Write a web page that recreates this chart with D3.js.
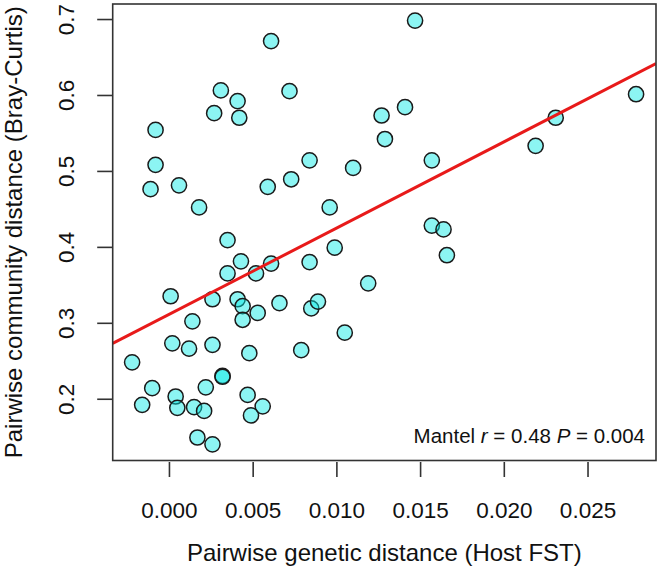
<!DOCTYPE html>
<html>
<head>
<meta charset="utf-8">
<script src="https://cdn.jsdelivr.net/npm/d3@7"></script>
<style>
	body { margin: 0; background: #fff; }
	text { font-family: "Liberation Sans", Arial, Helvetica, sans-serif; fill: #111; }
</style>
</head>
<body>
<svg class="mainsvg" width="661" height="578"></svg>
<script>
// host FST vs Bray-Curtis
var fst = [0.0061, 0.0031, 0.0072, 0.0041, 0.0027, 0.0042, -0.0008, -0.0008, -0.0011, 0.0006,
	0.0018, 0.0059, 0.0073, 0.0084, 0.0110, 0.0096, 0.0127, 0.0129, 0.0147, 0.0141,
	0.0157, 0.0219, 0.0231, 0.0279, 0.0157, 0.0164, 0.0166, 0.0035, 0.0043, 0.0035,
	0.0061, 0.0052, 0.0084, 0.0099, 0.0119, 0.0001, 0.0026, 0.0041, 0.0044, 0.0053,
	0.0044, 0.0066, 0.0085, 0.0089, 0.0014, 0.0105, 0.0002, 0.0012, 0.0026, 0.0048,
	0.0079, -0.0022, 0.0032, 0.0032, -0.0010, 0.0022, 0.0004, 0.0047, -0.0016, 0.0005,
	0.0015, 0.0021, 0.0056, 0.0049, 0.0017, 0.0026];
var bray = [0.671, 0.606, 0.605, 0.592, 0.576, 0.570, 0.554, 0.508, 0.476, 0.481,
	0.452, 0.479, 0.489, 0.514, 0.504, 0.452, 0.573, 0.542, 0.698, 0.584,
	0.514, 0.533, 0.570, 0.601, 0.428, 0.423, 0.389, 0.409, 0.381, 0.365,
	0.378, 0.365, 0.380, 0.399, 0.352, 0.335, 0.331, 0.331, 0.322, 0.313,
	0.304, 0.326, 0.319, 0.328, 0.302, 0.287, 0.273, 0.266, 0.271, 0.260,
	0.264, 0.248, 0.230, 0.229, 0.214, 0.215, 0.203, 0.205, 0.192, 0.188,
	0.189, 0.184, 0.190, 0.178, 0.149, 0.140];

var fit = [0.311, 11.36];   // intercept, slope
var xTicks = [0, 0.005, 0.010, 0.015, 0.020, 0.025];
var yTicks = [0.2, 0.3, 0.4, 0.5, 0.6, 0.7];
var statText = { pre: 'Mantel ', r: 'r', mid: ' = 0.48 ', p: 'P', post: ' = 0.004' };

var svg = d3.select('.mainsvg');
var pl = 112.7, pr = 656, pt = 4, pb = 460.5;

var x = d3.scaleLinear().domain([-0.00336, 0.02909]).range([pl, pr]);
var y = d3.scaleLinear().domain([0.1187, 0.7198]).range([pb, pt]);

svg.append('clipPath')
	.attr('id', 'plotclip')
	.append('rect')
	.attr('x', pl).attr('y', pt)
	.attr('width', pr - pl).attr('height', pb - pt);

// points
var pts = fst.map(function(d, i) { return { x: d, y: bray[i] }; });
svg.append('g')
	.selectAll('circle')
	.data(pts)
	.join('circle')
	.attr('cx', function(d) { return x(d.x); })
	.attr('cy', function(d) { return y(d.y); })
	.attr('r', 7.6)
	.attr('fill', 'rgba(0,232,228,0.45)')
	.attr('stroke', '#1a1a1a')
	.attr('stroke-width', 1.5);

// regression line
var xd = x.domain();
svg.append('line')
	.attr('clip-path', 'url(#plotclip)')
	.attr('x1', x(xd[0])).attr('y1', y(fit[0] + fit[1] * xd[0]))
	.attr('x2', x(xd[1])).attr('y2', y(fit[0] + fit[1] * xd[1]))
	.attr('stroke', '#e81a1a')
	.attr('stroke-width', 3);

// box
svg.append('rect')
	.attr('x', pl).attr('y', pt)
	.attr('width', pr - pl).attr('height', pb - pt)
	.attr('fill', 'none')
	.attr('stroke', '#333')
	.attr('stroke-width', 1.6);

// x axis
var gx = svg.append('g')
	.attr('transform', 'translate(0,' + (pb + 1.5) + ')')
	.call(d3.axisBottom(x).tickValues(xTicks).tickSize(15).tickFormat(d3.format('.3f')));
gx.select('.domain').remove();
gx.selectAll('.tick line').attr('stroke', '#333').attr('stroke-width', 1.6);
gx.selectAll('.tick text')
	.attr('font-size', '22.5px')
	.attr('dy', 0)
	.attr('y', 56)
	.attr('fill', '#111')
	.style('font-family', '"Liberation Sans", Arial, sans-serif');

// y axis
var gy = svg.append('g')
	.attr('transform', 'translate(' + (pl - 0.5) + ',0)')
	.call(d3.axisLeft(y).tickValues(yTicks).tickSize(15).tickFormat(d3.format('.1f')));
gy.select('.domain').remove();
gy.selectAll('.tick line').attr('stroke', '#333').attr('stroke-width', 1.6);
gy.selectAll('.tick text')
	.attr('font-size', '22.5px')
	.attr('transform', 'rotate(-90)')
	.attr('x', 0)
	.attr('y', -38)
	.attr('dy', 0)
	.attr('fill', '#111')
	.style('text-anchor', 'middle')
	.style('font-family', '"Liberation Sans", Arial, sans-serif');

// axis titles
svg.append('text')
	.attr('x', (pl + pr) / 2)
	.attr('y', 561)
	.attr('font-size', '24px')
	.style('text-anchor', 'middle')
	.text('Pairwise genetic distance (Host FST)');

svg.append('text')
	.attr('transform', 'translate(22,' + ((pt + pb) / 2) + ') rotate(-90)')
	.attr('font-size', '24px')
	.style('text-anchor', 'middle')
	.text('Pairwise community distance (Bray-Curtis)');

// stats label
var st = svg.append('text')
	.attr('x', 645)
	.attr('y', 443)
	.attr('font-size', '20.5px')
	.style('text-anchor', 'end');
st.append('tspan').text(statText.pre);
st.append('tspan').attr('font-style', 'italic').text(statText.r);
st.append('tspan').text(statText.mid);
st.append('tspan').attr('font-style', 'italic').text(statText.p);
st.append('tspan').text(statText.post);
</script>
</body>
</html>
